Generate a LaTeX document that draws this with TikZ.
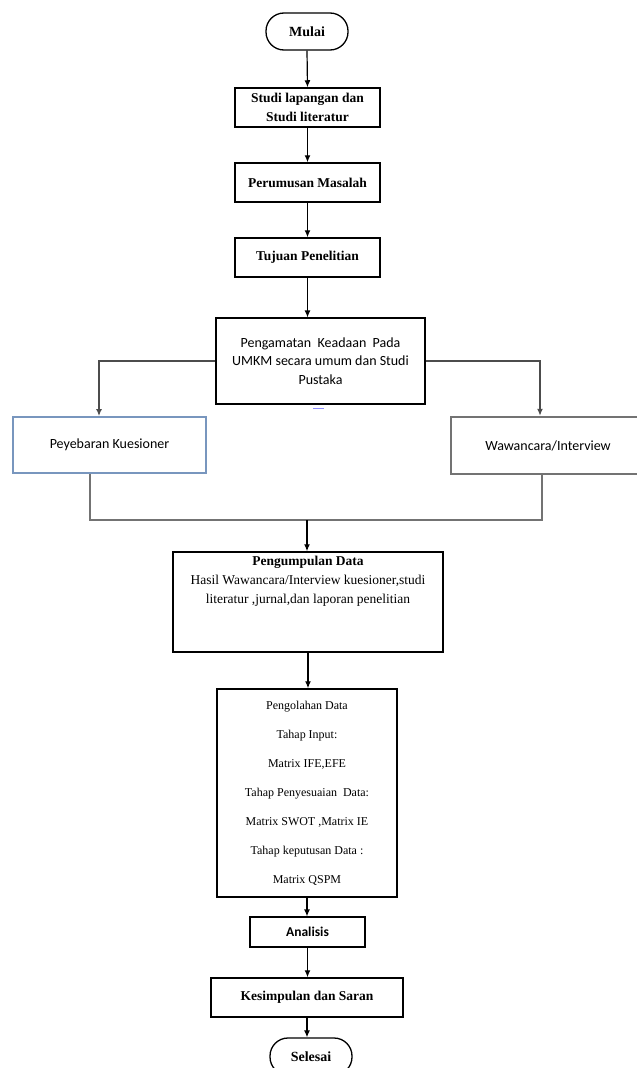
\documentclass[tikz,border=0pt]{standalone}
\usepackage{fontspec}
\setmainfont{Liberation Serif}
\newfontfamily\calibri{Carlito}
\usepackage{xcolor}
\usetikzlibrary{arrows.meta,positioning}
\definecolor{sebarblue}{RGB}{120,150,190}

\begin{document}
\begin{tikzpicture}[x=1pt,y=-1pt,>={Latex[length=7pt,width=6pt]},
 flow/.style={->,line width=1.2pt,draw=black},
 branch/.style={->,line width=1.6pt,draw=black!70},
 collect/.style={line width=1.8pt,draw=black!55},
 box/.style={draw=black,line width=1.5pt,align=center,inner sep=0pt,
   font=\fontsize{13.5}{19}\selectfont\bfseries},
 sbox/.style={draw=black,line width=1.2pt,align=center,inner sep=0pt,
   font=\calibri\fontsize{14}{18.5}\selectfont},
 term/.style={draw=black,line width=1.3pt,rounded corners=18pt,inner sep=0pt,
   minimum width=82pt,minimum height=37pt,font=\fontsize{14}{16}\selectfont\bfseries}]
\useasboundingbox (0,0) rectangle (637,1068);
% Main research steps.
\node[term] (mulai) at (307,31.5) {Mulai};
\node[box,minimum width=145pt,minimum height=39pt] (studi) at (307.5,107.5)
 {Studi lapangan dan\\Studi literatur};
\node[box,minimum width=145pt,minimum height=39pt] (rumus) at (307.5,182.5)
 {Perumusan Masalah};
\node[box,minimum width=145pt,minimum height=39pt] (tujuan) at (307.5,257.5)
 {Tujuan Penelitian};
\node[sbox,minimum width=209pt,minimum height=86pt] (amati) at (320.5,361)
 {Pengamatan\ \ Keadaan\ \ Pada\\UMKM secara umum dan Studi\\Pustaka};
\draw[flow] (mulai.south)--(studi.north);
\draw[flow] (studi.south)--(rumus.north);
\draw[flow] (rumus.south)--(tujuan.north);
\draw[flow] (tujuan.south)--(tujuan.south |- amati.north);
\draw[blue!45,line width=1.5pt] ([xshift=-7.5pt,yshift=-4pt]amati.south) -- ++(11,0);

% Two data collection branches.
\node[sbox,draw=sebarblue,line width=1.8pt,minimum width=193pt,minimum height=56pt]
 (sebar) at (109.5,445) {Peyebaran Kuesioner};
\node[sbox,draw=black!55,line width=2.4pt,minimum width=194pt,minimum height=57pt]
 (wawan) at (548,445.5) {Wawancara/Interview};
\draw[branch] (amati.west) -| ([xshift=-10.5pt]sebar.north);
\draw[branch] (amati.east) -| ([xshift=-8pt]wawan.north);
\coordinate (merge) at (307,520);
\draw[collect] ([xshift=-19.5pt]sebar.south) |- (merge) -| ([xshift=-6pt]wawan.south);

% Data gathering and processing.
\node[box,minimum width=270pt,minimum height=100pt] (kumpul) at (308,602) {};
\node[anchor=north,align=center,inner sep=0pt,font=\fontsize{13.5}{19}\selectfont]
 (kumpultext) at ([yshift=-5pt]kumpul.north)
 {\textbf{Pengumpulan Data}\\Hasil Wawancara/Interview kuesioner,studi\\
  literatur ,jurnal,dan laporan penelitian};
\draw[flow] (merge)--(merge |- kumpul.north);
\node[box,minimum width=180pt,minimum height=208pt,
 font=\fontsize{12}{29}\selectfont] (olah) at (307,793)
 {Pengolahan Data\\ Tahap Input:\\Matrix IFE,EFE\\Tahap Penyesuaian\ \ Data:\\
  Matrix SWOT ,Matrix IE\\Tahap keputusan Data :\\Matrix QSPM};
\draw[flow] (kumpul.south)--(kumpul.south |- olah.north);

% Closing steps.
\node[sbox,minimum width=115pt,minimum height=30pt,
 font=\calibri\fontsize{13.5}{16}\selectfont\bfseries] (analisis) at (307.5,932) {Analisis};
\node[box,minimum width=192pt,minimum height=39pt] (simpul) at (307,997.5)
 {Kesimpulan dan Saran};
\node[term] (selesai) at (311,1056.5) {Selesai};
\draw[flow] (olah.south)--(olah.south |- analisis.north);
\draw[flow] (analisis.south)--(analisis.south |- simpul.north);
\draw[flow] (simpul.south)--(simpul.south |- selesai.north);
\end{tikzpicture}
\end{document}
